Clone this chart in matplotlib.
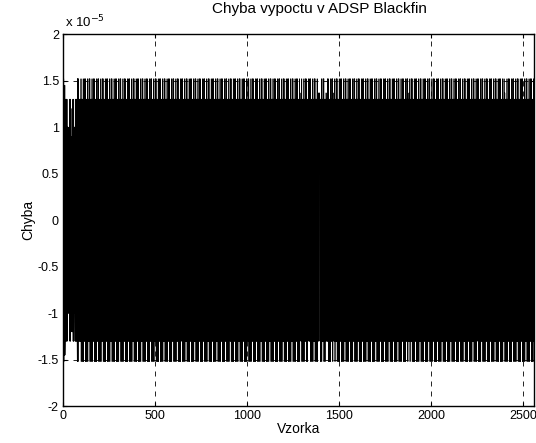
import numpy as np
import matplotlib
matplotlib.use('Agg')
import matplotlib.pyplot as plt

plt.rcParams['font.family'] = ['Liberation Sans', 'DejaVu Sans']

# pocet vzorku
n_samples = 2560

# nabeh chyby (prvnich ~100 vzorku), amplitudy v jednotkach 1e-5, po 6 vzorcich
start_mag = [1.52, 1.45, 1.30, 1.30, 1.00, 0.95, 1.30, 0.90,
             1.20, 1.30, 1.00, 1.30, 1.30, 1.52, 1.30, 1.30]
start_sign = [1, 1, -1, 1, 1, -1, 1, 1, -1, 1, 1, -1, 1, -1, 1, 1]

# ustaleny stav: amplitudy jedne periody (strida se znamenko)
cycle_mag = [1.30, 1.30, 1.52, 1.52, 1.30, 1.30, 1.30, 1.30,
             1.30, 1.52, 1.30, 1.30, 1.30, 1.30, 1.52, 1.52,
             1.30, 1.30, 1.30, 1.30, 1.30, 1.30, 1.52, 1.30]

# mista, kde chyba na chvili nemeni znamenko (bile mezery)
gap_pos = [210, 640, 905, 1290, 1335, 1390, 1430, 1470, 1880, 2250, 2400]
gap_len = [3, 4, 3, 5, 4, 6, 3, 4, 3, 4, 3]

# sestaveni signalu
start = []
for m, s in zip(start_mag, start_sign):
    for k in range(6):
        start.append(s * m * (1 if k % 2 == 0 else -1))
rest = np.resize(cycle_mag, n_samples - len(start))
sign = np.where(np.arange(len(rest)) % 2 == 0, 1.0, -1.0)
steady = rest * sign
for p, L in zip(gap_pos, gap_len):
    i = p - len(start)
    steady[i:i + L] = np.abs(steady[i:i + L]) * 0.9
err = np.concatenate([start, steady]) * 1e-5
x = np.arange(n_samples)

fig = plt.figure(figsize=(5.36, 4.43), dpi=100)
ax = fig.add_axes([0.1175, 0.083, 0.8785, 0.84])

ax.plot(x, err, color='black', linewidth=0.5)

ax.set_xlim(0, 2560)
ax.set_ylim(-2e-5, 2e-5)
ax.set_xticks([0, 500, 1000, 1500, 2000, 2500])
yt = [-2, -1.5, -1, -0.5, 0, 0.5, 1, 1.5, 2]
ax.set_yticks([v * 1e-5 for v in yt])
ax.set_yticklabels(['-2', '-1.5', '-1', '-0.5', '0', '0.5', '1', '1.5', '2'])
ax.grid(True, color='black', linestyle=(0, (6, 6)), linewidth=0.6)
ax.set_axisbelow(True)
ax.tick_params(direction='in', labelsize=9, length=3, top=True, right=True, pad=3)
for sp in ax.spines.values():
    sp.set_linewidth(1.0)

fig.text(319 / 536, 1 - 9 / 443, 'Chyba vypoctu v ADSP Blackfin', fontsize=11,
         ha='center', va='center')
ax.set_xlabel('Vzorka', fontsize=10, labelpad=0)
ax.set_ylabel('Chyba', fontsize=10, labelpad=2)
fig.text(65 / 536, 1 - 22 / 443, r'x 10$^{-5}$', fontsize=9.5,
         ha='left', va='center')

fig.savefig('out.png', dpi=100)
